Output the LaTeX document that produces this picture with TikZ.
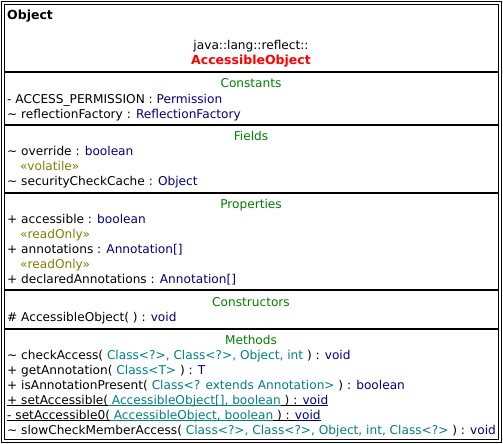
\documentclass[tikz,border=0pt]{standalone}
\usepackage{fontspec}
\setmainfont{DejaVu Sans}
\definecolor{umltype}{RGB}{0,0,128}
\definecolor{umlparam}{RGB}{0,128,128}
\definecolor{umlsect}{RGB}{0,128,0}
\definecolor{umlstereo}{RGB}{128,128,0}
\definecolor{umlname}{RGB}{255,0,0}
\newcommand\ty[1]{\textcolor{umltype}{#1}}
\newcommand\pa[1]{\textcolor{umlparam}{#1}}
\newcommand\ulseg[1]{\setbox0\hbox{#1}\rlap{\rule[-2pt]{\wd0}{0.9pt}}\box0}
\begin{document}
\begin{tikzpicture}[x=1pt,y=-1pt,
  txt/.style={inner sep=0pt, anchor=base west, font=\fontsize{12.15}{14}\selectfont},
  stereo/.style={txt, text=umlstereo},
  secttitle/.style={inner sep=0pt, anchor=base, text=umlsect, font=\fontsize{12.15}{14}\selectfont},
  boldtxt/.style={font=\fontsize{12.5}{14}\selectfont\bfseries},
  sepline/.style={line width=2pt},
  frame/.style={line width=1pt}]
\useasboundingbox (0,0) rectangle (503,444);
\fill[white] (0,0) rectangle (503,444);
% frame
\draw[frame] (1.5,1.5) rectangle (501.5,442.5);
\draw[frame] (4.5,4.5) rectangle (498.5,439.5);
% separators
\foreach \yy/\nm in {72/s1,125/s2,193/s3,290/s4,329/s5}{
  \coordinate (\nm L) at (4.5,\yy);
  \coordinate (\nm R) at (498.5,\yy);
  \draw[sepline] (\nm L) -- (\nm R);
}
% header
\node[txt, boldtxt] (obj) at (7,20) {Object};
\node[secttitle, text=black] (pkg) at (251,50) {java::lang::reflect::};
\node[secttitle, text=umlname, boldtxt] (cls) at (251,64) {AccessibleObject};
% Constants
\node[secttitle] (tconst) at (251,87) {Constants};
\node[txt] (c1) at (7,103) {- ACCESS\_PERMISSION : \ty{Permission}};
\node[txt] (c2) at (7,118) {\textasciitilde{} reflectionFactory : \ty{ReflectionFactory}};
% Fields
\node[secttitle] (tfield) at (251,140) {Fields};
\node[txt] (f1) at (7,155) {\textasciitilde{} override : \ty{boolean}};
\node[stereo] (f1s) at (20,170) {«volatile»};
\node[txt] (f2) at (7,185) {\textasciitilde{} securityCheckCache : \ty{Object}};
% Properties
\node[secttitle] (tprop) at (251,208) {Properties};
\node[txt] (p1) at (7,223) {+ accessible : \ty{boolean}};
\node[stereo] (p1s) at (20,238) {«readOnly»};
\node[txt] (p2) at (7,253) {+ annotations : \ty{Annotation[]}};
\node[stereo] (p2s) at (20,268) {«readOnly»};
\node[txt] (p3) at (7,283) {+ declaredAnnotations : \ty{Annotation[]}};
% Constructors
\node[secttitle] (tctor) at (251,306) {Constructors};
\node[txt] (k1) at (7,321) {\# AccessibleObject( ) : \ty{void}};
% Methods
\node[secttitle] (tmeth) at (251,344) {Methods};
\node[txt] (m1) at (7,359) {\textasciitilde{} checkAccess( \pa{Class<?>, Class<?>, Object, int} ) : \ty{void}};
\node[txt] (m2) at (7,374) {+ getAnnotation( \pa{Class<T>} ) : \ty{T}};
\node[txt] (m3) at (7,389) {+ isAnnotationPresent( \pa{Class<? extends Annotation>} ) : \ty{boolean}};
\node[txt] (m4) at (7,404) {\ulseg{+ setAccessible(}\pa{\ulseg{ AccessibleObject[], boolean}}\ulseg{ ) : }\ty{\ulseg{void}}};
\node[txt] (m5) at (7,419) {\ulseg{- setAccessible0(}\pa{\ulseg{ AccessibleObject, boolean}}\ulseg{ ) : }\ty{\ulseg{void}}};
\node[txt] (m6) at (7,434) {\textasciitilde{} slowCheckMemberAccess( \pa{Class<?>, Class<?>, Object, int, Class<?>} ) : \ty{void}};
\end{tikzpicture}
\end{document}
